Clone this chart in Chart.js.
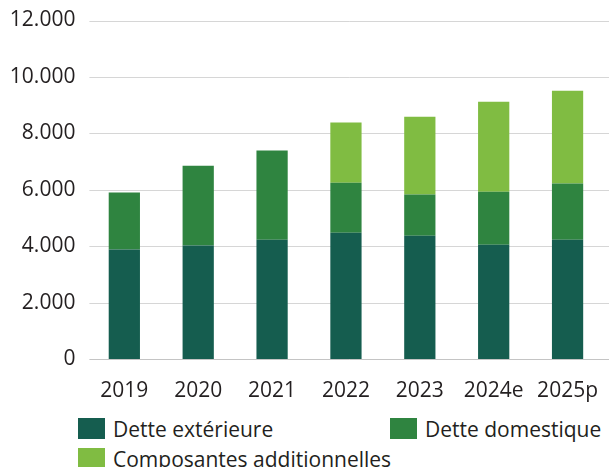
<!DOCTYPE html>
<html>
<head>
<meta charset="utf-8">
<script src="https://cdn.jsdelivr.net/npm/chart.js@4"></script>
<style>
    html, body { margin: 0; padding: 0; background: #fff; }
    #wrap { position: relative; width: 609px; height: 467px; overflow: hidden; }
    #canvasBox { position: absolute; left: 0; top: 0; width: 609px; height: 410px; }
    #legenda {
        position: absolute; left: 78px; top: 418px;
        display: grid; grid-template-columns: 312px auto; row-gap: 9px;
        font-family: 'Open Sans', sans-serif; font-size: 21px; color: #231f20;
    }
    .item { display: flex; align-items: center; height: 21px; white-space: nowrap; }
    .caixa { width: 27px; height: 21px; margin-right: 8px; flex: none; }
</style>
</head>
<body>
<div id="wrap">
    <div id="canvasBox"><canvas id="dividaChart"></canvas></div>
    <div id="legenda"></div>
</div>
<script>
const anos = ['2019', '2020', '2021', '2022', '2023', '2024e', '2025p'];
const detteExterieure = [3880, 4020, 4230, 4480, 4370, 4050, 4230];
const detteDomestique = [2020, 2835, 3160, 1770, 1460, 1880, 1990];
const composantesAdditionnelles = [null, null, null, 2130, 2760, 3190, 3290];
const yTicks = [0, 2000, 4000, 6000, 8000, 10000, 12000];

function formatarValor(valor) {
    return valor.toString().replace(/\B(?=(\d{3})+(?!\d))/g, '.');
}

// linhas de grade que vão até a borda direita do canvas
const gradeLonga = {
    id: 'gradeLonga',
    beforeDatasetsDraw(chart) {
        const ctx = chart.ctx;
        const y = chart.scales.y;
        ctx.save();
        ctx.lineWidth = 1;
        y.ticks.forEach(t => {
            const py = Math.round(y.getPixelForValue(t.value)) + 0.5;
            ctx.strokeStyle = t.value === 0 ? '#c4c4c4' : '#d6d6d6';
            ctx.beginPath();
            ctx.moveTo(chart.chartArea.left + 2, py);
            ctx.lineTo(chart.width, py);
            ctx.stroke();
        });
        ctx.restore();
    }
};

const fonte = { family: 'Open Sans', size: 21 };

const ctx = document.getElementById('dividaChart').getContext('2d');
const chart = new Chart(ctx, {
    type: 'bar',
    data: {
        labels: anos,
        datasets: [
            { label: 'Dette extérieure', data: detteExterieure, backgroundColor: '#155d4f' },
            { label: 'Dette domestique', data: detteDomestique, backgroundColor: '#2f8440' },
            { label: 'Composantes additionnelles', data: composantesAdditionnelles, backgroundColor: '#80bc42' }
        ]
    },
    options: {
        responsive: true,
        maintainAspectRatio: false,
        animation: false,
        // a última categoria passa um pouco da borda direita, como no original
        layout: { padding: { top: 20.5, right: -4.6, left: 0, bottom: 0 } },
        datasets: { bar: { barPercentage: 0.423, categoryPercentage: 1 } },
        scales: {
            x: {
                stacked: true,
                grid: { display: false },
                border: { display: false },
                ticks: { color: '#231f20', font: fonte, padding: 11, maxRotation: 0, autoSkip: false },
                afterFit(scale) { scale.height = 51; }
            },
            y: {
                stacked: true,
                min: 0,
                max: 12000,
                grid: { display: false, drawTicks: false },
                border: { display: false },
                afterBuildTicks(scale) { scale.ticks = yTicks.map(v => ({ value: v })); },
                afterFit(scale) {
                    scale.width = 87.4;
                    scale.paddingTop = 0;
                    scale.paddingBottom = 0;
                },
                ticks: {
                    color: '#231f20',
                    font: fonte,
                    padding: 12,
                    callback: v => formatarValor(v)
                }
            }
        },
        plugins: {
            legend: { display: false },
            tooltip: { enabled: false }
        }
    },
    plugins: [gradeLonga]
});

const legenda = document.getElementById('legenda');
chart.data.datasets.forEach(ds => {
    const item = document.createElement('div');
    item.className = 'item';
    item.innerHTML = `<span class="caixa" style="background:${ds.backgroundColor}"></span><span>${ds.label}</span>`;
    legenda.appendChild(item);
});
</script>
</body>
</html>
